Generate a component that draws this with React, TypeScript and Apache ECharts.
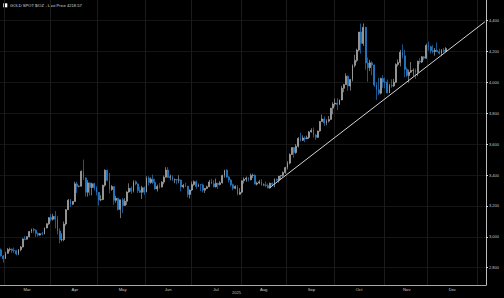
import React, { useEffect, useRef } from 'react';
import * as echarts from 'echarts';

// Daily candles, each row: [open, close, low, high]
const feb = [[2916, 2876, 2872, 2924], [2876, 2858, 2833, 2882]];
const mar = [
  [2858, 2893, 2856, 2903], [2893, 2918, 2890, 2928], [2918, 2920, 2905, 2930], [2920, 2911, 2896, 2926],
  [2911, 2910, 2894, 2930], [2910, 2889, 2880, 2915], [2889, 2917, 2881, 2921], [2917, 2934, 2906, 2940],
  [2934, 2986, 2931, 2990], [2986, 2984, 2977, 3005], [2984, 3001, 2982, 3004], [3001, 3034, 2997, 3038],
  [3034, 3048, 3024, 3053], [3048, 3043, 3026, 3057], [3043, 3022, 2999, 3048], [3022, 3011, 3002, 3029],
  [3011, 3020, 3007, 3025], [3020, 3019, 3010, 3032], [3019, 3057, 3015, 3060], [3057, 3085, 3055, 3087],
  [3085, 3124, 3076, 3128],
];
const apr = [
  [3124, 3113, 3100, 3149], [3113, 3133, 3105, 3149], [3133, 3114, 3054, 3167], [3114, 3037, 3015, 3136],
  [3037, 2982, 2957, 3055], [2982, 2982, 2970, 3022], [2982, 3083, 2972, 3099], [3083, 3175, 3072, 3180],
  [3175, 3237, 3174, 3245], [3237, 3211, 3193, 3245], [3211, 3229, 3205, 3232], [3229, 3343, 3228, 3357],
  [3343, 3327, 3284, 3357], [3327, 3327, 3320, 3332], [3327, 3424, 3327, 3430], [3424, 3381, 3367, 3500],
  [3381, 3288, 3260, 3386], [3288, 3349, 3260, 3367], [3349, 3319, 3268, 3353], [3319, 3344, 3268, 3350],
  [3344, 3317, 3300, 3350], [3317, 3288, 3268, 3328],
];
const may = [
  [3288, 3239, 3202, 3290], [3239, 3241, 3230, 3269], [3241, 3334, 3237, 3336], [3334, 3431, 3324, 3437],
  [3431, 3365, 3360, 3434], [3365, 3306, 3281, 3414], [3306, 3325, 3298, 3335], [3325, 3236, 3207, 3326],
  [3236, 3249, 3220, 3266], [3249, 3177, 3170, 3253], [3177, 3240, 3121, 3240], [3240, 3203, 3154, 3252],
  [3203, 3230, 3207, 3250], [3230, 3290, 3206, 3295], [3290, 3314, 3285, 3346], [3314, 3295, 3278, 3325],
  [3295, 3357, 3287, 3366], [3357, 3342, 3333, 3365], [3342, 3300, 3284, 3347], [3300, 3288, 3285, 3325],
  [3288, 3318, 3245, 3330], [3318, 3289, 3271, 3326],
];
const jun = [
  [3289, 3381, 3288, 3392], [3381, 3352, 3333, 3392], [3352, 3373, 3343, 3385], [3373, 3352, 3341, 3403],
  [3352, 3310, 3306, 3375], [3310, 3326, 3293, 3338], [3326, 3322, 3312, 3349], [3322, 3354, 3320, 3360],
  [3354, 3385, 3340, 3397], [3386, 3432, 3384, 3451], [3432, 3385, 3382, 3451], [3385, 3388, 3366, 3403],
  [3388, 3369, 3362, 3398], [3369, 3370, 3347, 3378], [3370, 3368, 3340, 3375], [3368, 3368, 3347, 3398],
  [3368, 3323, 3295, 3371], [3323, 3333, 3313, 3343], [3333, 3328, 3322, 3350], [3328, 3274, 3255, 3330],
  [3274, 3303, 3248, 3306],
];
const jul = [
  [3303, 3338, 3296, 3358], [3338, 3357, 3330, 3365], [3357, 3326, 3311, 3365], [3326, 3337, 3322, 3345],
  [3337, 3336, 3296, 3342], [3336, 3302, 3288, 3345], [3302, 3313, 3283, 3317], [3313, 3324, 3310, 3331],
  [3324, 3355, 3322, 3368], [3355, 3343, 3340, 3375], [3343, 3324, 3320, 3366], [3324, 3347, 3319, 3377],
  [3347, 3338, 3310, 3350], [3338, 3350, 3332, 3361], [3350, 3397, 3344, 3402], [3397, 3431, 3383, 3434],
  [3431, 3387, 3381, 3438], [3387, 3368, 3351, 3393], [3368, 3337, 3325, 3373], [3337, 3314, 3301, 3345],
  [3314, 3326, 3308, 3334], [3326, 3275, 3268, 3334], [3275, 3289, 3271, 3315],
];
const aug = [
  [3289, 3363, 3282, 3363], [3363, 3373, 3345, 3385], [3373, 3380, 3356, 3390], [3380, 3369, 3358, 3386],
  [3369, 3397, 3366, 3409], [3397, 3398, 3380, 3409], [3398, 3341, 3340, 3404], [3341, 3348, 3332, 3357],
  [3348, 3356, 3341, 3368], [3356, 3335, 3330, 3373], [3335, 3336, 3331, 3345], [3336, 3332, 3323, 3358],
  [3332, 3316, 3315, 3345], [3316, 3347, 3311, 3350], [3347, 3339, 3326, 3351], [3339, 3372, 3321, 3378],
  [3372, 3366, 3358, 3377], [3366, 3393, 3351, 3394], [3393, 3397, 3370, 3398], [3397, 3416, 3385, 3423],
  [3416, 3448, 3408, 3454],
];
const sep = [
  [3448, 3477, 3436, 3490], [3477, 3533, 3469, 3540], [3533, 3578, 3530, 3578], [3578, 3545, 3511, 3579],
  [3545, 3586, 3537, 3600], [3586, 3636, 3577, 3646], [3636, 3625, 3616, 3674], [3625, 3640, 3620, 3657],
  [3640, 3634, 3612, 3651], [3634, 3643, 3633, 3655], [3643, 3679, 3633, 3685], [3679, 3689, 3675, 3703],
  [3689, 3659, 3642, 3707], [3659, 3644, 3627, 3666], [3644, 3685, 3640, 3687], [3685, 3746, 3681, 3749],
  [3746, 3763, 3745, 3791], [3763, 3736, 3718, 3779], [3736, 3749, 3722, 3761], [3749, 3760, 3740, 3782],
  [3760, 3833, 3759, 3834], [3833, 3859, 3793, 3871],
];
const oct = [
  [3859, 3866, 3844, 3895], [3866, 3857, 3820, 3897], [3857, 3886, 3853, 3889], [3886, 3961, 3884, 3977],
  [3961, 3985, 3936, 3990], [3985, 4040, 3985, 4059], [4040, 3976, 3945, 4045], [3976, 4018, 3947, 4022],
  [4018, 4110, 4006, 4116], [4110, 4142, 4097, 4179], [4142, 4209, 4130, 4218], [4209, 4326, 4200, 4326],
  [4326, 4252, 4185, 4380], [4252, 4356, 4236, 4381], [4356, 4125, 4082, 4359], [4125, 4095, 4004, 4161],
  [4095, 4126, 4073, 4146], [4126, 4112, 4045, 4138], [4112, 3982, 3970, 4115], [3982, 3952, 3886, 4000],
  [3952, 3930, 3918, 4030], [3930, 4025, 3922, 4030], [4025, 4002, 3964, 4047],
];
const nov = [
  [4002, 4000, 3962, 4030], [4000, 3931, 3928, 4018], [3931, 3980, 3930, 3990], [3980, 3977, 3965, 4020],
  [3977, 4001, 3970, 4022], [4001, 4115, 3995, 4123], [4115, 4128, 4103, 4148], [4128, 4195, 4103, 4210],
  [4195, 4172, 4155, 4245], [4172, 4084, 4033, 4211], [4084, 4045, 4035, 4097], [4045, 4066, 3998, 4082],
  [4066, 4077, 4060, 4132], [4077, 4078, 4040, 4090], [4078, 4065, 4023, 4090], [4065, 4137, 4040, 4140],
  [4137, 4131, 4117, 4158], [4131, 4165, 4125, 4170], [4165, 4156, 4144, 4170], [4156, 4239, 4153, 4250],
];
const dec = [
  [4239, 4231, 4205, 4264], [4231, 4205, 4186, 4238], [4205, 4200, 4187, 4241], [4200, 4207, 4173, 4222],
  [4207, 4198, 4196, 4259], [4198, 4189, 4180, 4218], [4189, 4208, 4170, 4215], [4208, 4200, 4192, 4222],
  [4200, 4218.57, 4195, 4228],
];

const seriesName = 'GOLD SPOT $/OZ - Last Price 4218.57';
const lastPrice = 4218.57;
const yTicks = [2800, 3000, 3200, 3400, 3600, 3800, 4000, 4200, 4400];
const yMin = 2688;
const yMax = 4533;
const firstDay = '2025-02-27';
const lastDay = '2026-01-06';
const labelledMonths = ['2025-03', '2025-04', '2025-05', '2025-06', '2025-07', '2025-08', '2025-09', '2025-10', '2025-11', '2025-12'];
const monthAbbr = ['Jan', 'Feb', 'Mar', 'Apr', 'May', 'Jun', 'Jul', 'Aug', 'Sep', 'Oct', 'Nov', 'Dec'];
const trendStart = ['2025-08-20', 3320];
const trendEnd = ['2026-01-06', 4392];
const yearLabel = '2025';

function weekdays(from: string, to: string): string[] {
  const out: string[] = [];
  let d = new Date(from + 'T00:00:00Z');
  const end = new Date(to + 'T00:00:00Z');
  while (d <= end) {
    const w = d.getUTCDay();
    if (w !== 0 && w !== 6) out.push(d.toISOString().slice(0, 10));
    d = new Date(d.getTime() + 86400000);
  }
  return out;
}

export default function App() {
  const ref = useRef<HTMLDivElement>(null);
  useEffect(() => {
    if (!ref.current) return;
    const chart = echarts.init(ref.current, undefined, { renderer: 'svg' });
    const dates = weekdays(firstDay, lastDay);
    const candles = [...feb, ...mar, ...apr, ...may, ...jun, ...jul, ...aug, ...sep, ...oct, ...nov, ...dec];

    const firstIdx: Record<string, number> = {};
    const counts: Record<string, number> = {};
    dates.forEach((d, i) => {
      const k = d.slice(0, 7);
      if (firstIdx[k] === undefined) firstIdx[k] = i;
      counts[k] = (counts[k] || 0) + 1;
    });
    const labelIdx = new Set<number>();
    labelledMonths.forEach((m) => labelIdx.add(firstIdx[m] + Math.floor(counts[m] / 2)));
    const splitIdx = new Set<number>();
    Object.keys(firstIdx).forEach((k) => {
      if (firstIdx[k] > 0) splitIdx.add(firstIdx[k]);
    });

    const font = 'Liberation Sans';
    chart.setOption({
      animation: false,
      backgroundColor: '#000',
      textStyle: { fontFamily: font },
      grid: { left: 0, right: 18, top: 0, bottom: 13, containLabel: false },
      xAxis: {
        type: 'category',
        data: dates,
        boundaryGap: true,
        axisLine: { lineStyle: { color: '#a8a8a8', width: 1 } },
        axisTick: { show: false },
        axisLabel: {
          interval: (i: number) => labelIdx.has(i),
          formatter: (v: string) => monthAbbr[parseInt(v.slice(5, 7), 10) - 1],
          color: '#c8c8c8',
          fontSize: 4.2,
          margin: 2.5,
          fontFamily: font,
        },
        splitLine: {
          show: true,
          interval: (i: number) => splitIdx.has(i),
          lineStyle: { color: '#1b1b1b', width: 1 },
        },
      },
      yAxis: {
        type: 'value',
        position: 'right',
        min: yMin,
        max: yMax,
        axisLine: { show: true, lineStyle: { color: '#bdbdbd', width: 1 } },
        axisTick: { show: true, length: 2, customValues: yTicks, lineStyle: { color: '#dddddd' } },
        axisLabel: { customValues: yTicks, color: '#c8c8c8', fontSize: 4, margin: 3, fontFamily: font },
        splitLine: { show: true, lineStyle: { color: '#151515', width: 1 } },
      },
      series: [
        {
          type: 'candlestick',
          name: seriesName,
          data: candles,
          barWidth: '62%',
          itemStyle: {
            color: '#b8b8b8',
            color0: '#2b8de6',
            borderColor: '#b8b8b8',
            borderColor0: '#2b8de6',
            borderWidth: 0.6,
          },
          markLine: {
            silent: true,
            symbol: ['none', 'none'],
            data: [
              [
                { coord: trendStart, symbol: 'none' },
                { coord: trendEnd, symbol: 'none' },
              ],
              {
                yAxis: lastPrice,
                lineStyle: { opacity: 0 },
                label: {
                  show: true,
                  position: 'end',
                  distance: 2,
                  offset: [0, -1.8],
                  formatter: '4218.57',
                  backgroundColor: '#e4e4e4',
                  color: '#000',
                  fontSize: 4,
                  padding: [0.8, 1.5, 0.3, 1.5],
                  fontFamily: font,
                },
              },
            ],
            lineStyle: { color: '#d4d4d4', width: 1, type: 'solid' },
            label: { show: false },
          },
        },
      ],
      graphic: [
        { type: 'rect', left: 3.3, top: 3.3, shape: { width: 4, height: 4 }, style: { fill: '#ffffff' } },
        {
          type: 'text',
          left: 10,
          top: 3.3,
          style: { text: seriesName, fill: '#d8d8d8', fontSize: 4.1, fontFamily: font },
        },
        {
          type: 'text',
          left: 232,
          top: 290.5,
          style: { text: yearLabel, fill: '#bdbdbd', fontSize: 4.1, fontFamily: font },
        },
      ],
    });
    return () => chart.dispose();
  }, []);
  return (
    <div
      ref={ref}
      style={{ position: 'fixed', left: 0, top: 0, width: 504, height: 298, background: '#000' }}
    />
  );
}
